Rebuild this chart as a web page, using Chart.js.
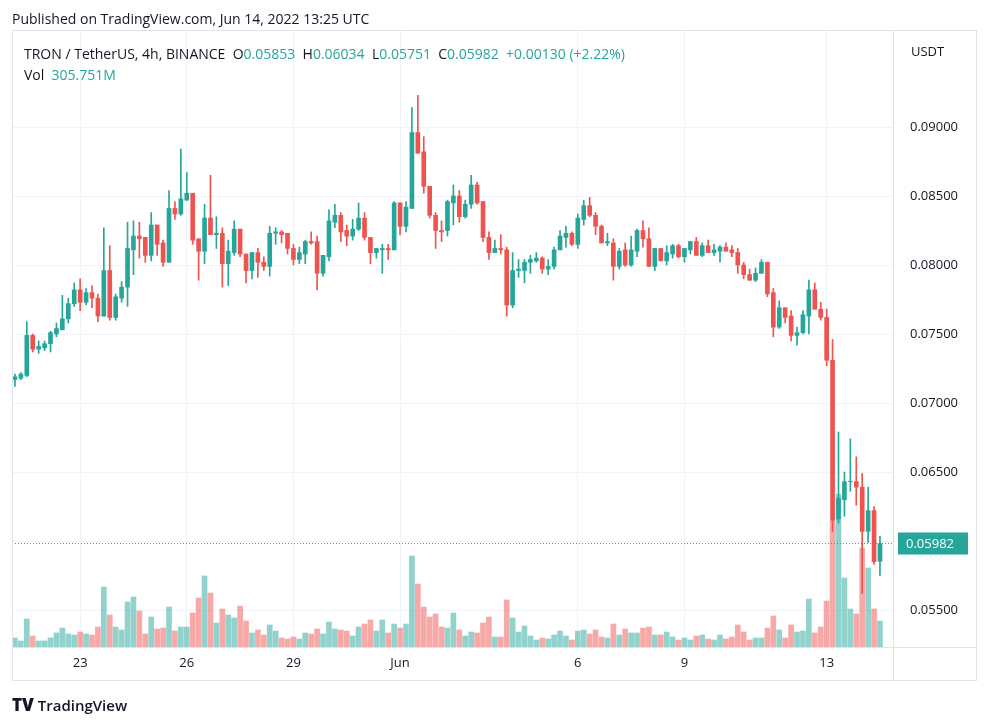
<!DOCTYPE html>
<html><head><meta charset="utf-8">
<script src="https://cdn.jsdelivr.net/npm/chart.js@4/dist/chart.umd.min.js"></script>
<style>
body{margin:0;width:991px;height:725px;background:#fff;font-family:"Open Sans","Liberation Sans",sans-serif;color:#131722;position:relative;overflow:hidden}
#c{position:absolute;left:0;top:0}
.t{position:absolute;white-space:pre;font-size:14px}
</style></head><body>
<canvas id="c" width="991" height="725"></canvas>
<div class="t" style="left:12px;top:9px">Published on TradingView.com, Jun 14, 2022 13:25 UTC</div>
<div class="t" style="left:24px;top:44px">TRON / TetherUS, 4h, BINANCE  O<span style="color:#26a69a">0.05853</span>  H<span style="color:#26a69a">0.06034</span>  L<span style="color:#26a69a">0.05751</span>  C<span style="color:#26a69a">0.05982</span>  <span style="color:#26a69a">+0.00130 (+2.22%)</span></div>
<div class="t" style="left:24px;top:65px">Vol  <span style="color:#26a69a">305.751M</span></div>
<div class="t" style="left:911px;top:42px;font-size:13px">USDT</div>
<div class="t" style="left:12px;top:693px;font-size:15px;font-weight:600"><span style="font-weight:900;font-size:17px">TV</span> TradingView</div>
<script>
const open=[.0717,.0718,.0720,.0749,.0739,.0740,.0743,.0750,.0753,.0761,.0772,.0782,.0773,.0780,.0776,.0763,.0796,.0762,.0776,.0784,.0811,.0821,.0820,.0807,.0829,.0816,.0802,.0841,.0837,.0847,.0852,.0819,.0810,.0834,.0822,.0823,.0801,.0809,.0826,.0808,.0796,.0809,.0802,.0799,.0823,.0824,.0823,.0812,.0804,.0808,.0817,.0817,.0794,.0806,.0831,.0836,.0825,.0821,.0826,.0834,.0820,.0809,.0811,.0812,.0811,.0845,.0828,.0841,.0896,.0882,.0857,.0836,.0825,.0825,.0845,.0850,.0835,.0844,.0858,.0846,.0820,.0809,.0812,.0811,.0771,.0796,.0796,.0802,.0803,.0805,.0797,.0799,.0811,.0820,.0823,.0815,.0833,.0843,.0836,.0828,.0816,.0816,.0799,.0811,.0800,.0810,.0825,.0819,.0799,.0812,.0803,.0808,.0814,.0806,.0811,.0817,.0807,.0814,.0809,.0810,.0813,.0811,.0809,.0800,.0793,.0789,.0794,.0802,.0780,.0755,.0769,.0763,.0749,.0751,.0763,.0782,.0768,.0762,.0731,.0616,.0630,.0643,.0643,.0639,.0607,.0622,.05853];
const high=[.0721,.0722,.0759,.0750,.0745,.0745,.0752,.0758,.0778,.0776,.0787,.0790,.0783,.0785,.0779,.0827,.0814,.0779,.0788,.0831,.0832,.0831,.0820,.0838,.0829,.0818,.0854,.0846,.0884,.0867,.0852,.0819,.0844,.0865,.0835,.0827,.0818,.0832,.0826,.0808,.0809,.0812,.0806,.0828,.0827,.0825,.0823,.0815,.0813,.0818,.0824,.0821,.0807,.0840,.0844,.0838,.0829,.0833,.0845,.0838,.0820,.0812,.0815,.0815,.0846,.0845,.0846,.0914,.0923,.0893,.0857,.0838,.0832,.0847,.0858,.0854,.0847,.0865,.0860,.0846,.0824,.0818,.0822,.0813,.0809,.0804,.0804,.0807,.0809,.0806,.0804,.0813,.0825,.0828,.0824,.0837,.0847,.0849,.0838,.0829,.0823,.0819,.0812,.0816,.0821,.0826,.0832,.0827,.0812,.0812,.0814,.0815,.0815,.0812,.0817,.0820,.0816,.0818,.0815,.0814,.0816,.0814,.0812,.0802,.0797,.0798,.0804,.0802,.0783,.0774,.0769,.0767,.0755,.0767,.0789,.0787,.0773,.0768,.0746,.0679,.0650,.0674,.0661,.0649,.0639,.0625,.06034];
const low=[.0712,.0717,.0719,.0737,.0736,.0738,.0737,.0748,.0753,.0758,.0770,.0767,.0771,.0769,.0759,.0763,.0760,.0760,.0773,.0770,.0793,.0805,.0802,.0803,.0807,.0799,.0802,.0833,.0836,.0847,.0815,.0789,.0801,.0822,.0812,.0784,.0785,.0807,.0806,.0787,.0790,.0791,.0796,.0792,.0815,.0816,.0808,.0800,.0801,.0801,.0815,.0782,.0792,.0803,.0827,.0817,.0814,.0818,.0825,.0818,.0801,.0805,.0794,.0804,.0811,.0822,.0824,.0841,.0881,.0852,.0834,.0812,.0817,.0821,.0829,.0831,.0834,.0841,.0844,.0817,.0804,.0809,.0808,.0763,.0769,.0791,.0787,.0794,.0802,.0794,.0793,.0797,.0811,.0813,.0814,.0812,.0829,.0835,.0822,.0816,.0814,.0789,.0797,.0799,.0799,.0806,.0813,.0799,.0796,.0803,.0800,.0805,.0805,.0802,.0808,.0807,.0806,.0809,.0807,.0802,.0810,.0806,.0794,.0790,.0789,.0788,.0794,.0777,.0748,.0754,.0758,.0745,.0742,.0750,.0750,.0768,.0760,.0727,.0607,.0613,.0618,.0636,.0626,.0562,.0599,.0583,.05751];
const close=[.0719,.0721,.0749,.0739,.0741,.0743,.0751,.0754,.0761,.0772,.0782,.0773,.0780,.0776,.0763,.0796,.0762,.0777,.0784,.0812,.0821,.0819,.0807,.0829,.0815,.0802,.0841,.0837,.0848,.0852,.0818,.0810,.0834,.0822,.0823,.0801,.0810,.0826,.0808,.0796,.0809,.0802,.0799,.0823,.0824,.0822,.0812,.0804,.0809,.0817,.0816,.0794,.0807,.0832,.0836,.0824,.0821,.0826,.0834,.0820,.0809,.0812,.0812,.0811,.0845,.0828,.0842,.0896,.0881,.0857,.0836,.0825,.0824,.0846,.0850,.0835,.0844,.0858,.0845,.0820,.0809,.0812,.0811,.0771,.0796,.0797,.0802,.0804,.0805,.0797,.0799,.0811,.0821,.0823,.0815,.0834,.0843,.0836,.0828,.0816,.0817,.0799,.0810,.0800,.0811,.0825,.0819,.0799,.0812,.0803,.0809,.0814,.0806,.0812,.0817,.0807,.0814,.0809,.0811,.0813,.0810,.0809,.0800,.0793,.0789,.0794,.0802,.0779,.0755,.0769,.0762,.0749,.0751,.0764,.0782,.0768,.0762,.0731,.0615,.0631,.0643,.0643,.0639,.0607,.0622,.0585,.05982];
const volumeM=[106,71,329,129,71,71,106,165,223,153,141,176,153,141,235,706,376,235,200,529,588,423,153,353,212,223,470,188,235,235,400,576,835,635,282,447,376,341,482,306,165,200,141,259,188,106,94,118,94,165,153,212,153,294,212,200,188,129,235,270,318,188,318,165,270,223,270,1070,741,470,353,388,235,223,400,200,129,176,165,282,353,118,118,553,341,176,247,129,82,106,94,141,188,129,82,188,200,153,200,118,106,270,141,212,165,165,223,235,141,141,176,118,82,106,82,129,141,94,82,141,94,118,259,176,82,106,106,223,365,200,106,259,176,188,564,165,235,541,1482,1799,811,447,388,1164,929,447,305.751];
const tickIndex=[11,29,47,65,95,113,137];
const tickLabels=['23','26','29','Jun','6','9','13'];
const priceTicks=[0.055,0.060,0.065,0.070,0.075,0.080,0.085,0.090];
const lastPrice=0.05982;

const G='#26a69a',R='#ef5350';
const up=close.map((c,i)=>c>=open[i]);
const col=up.map(u=>u?G:R);
const vcol=up.map(u=>u?'rgba(38,166,154,0.5)':'rgba(239,83,80,0.5)');
const idx=close.map((_,i)=>i);
const wick=idx.map(i=>({x:i,y:[low[i],high[i]]}));
const body=idx.map(i=>({x:i,y:[open[i],Math.abs(close[i]-open[i])<0.00003?open[i]+0.00003:close[i]]}));
const vol=idx.map(i=>({x:i,y:volumeM[i]}));

const lastPlugin={id:'last',afterDatasetsDraw(ch){
  const ctx=ch.ctx,y=ch.scales.y.getPixelForValue(lastPrice),a=ch.chartArea;
  ctx.save();ctx.strokeStyle=G;ctx.setLineDash([1,2]);ctx.lineWidth=1;
  ctx.beginPath();ctx.moveTo(a.left,Math.round(y)+0.5);ctx.lineTo(a.right,Math.round(y)+0.5);ctx.stroke();
  ctx.setLineDash([]);ctx.fillStyle=G;ctx.fillRect(a.right+5,y-11,70,22);
  ctx.fillStyle='#fff';ctx.font='13px "Open Sans"';ctx.textBaseline='middle';ctx.fillText('0.05982',a.right+13,y+1);
  ctx.strokeStyle='#e0e3eb';ctx.lineWidth=1;ctx.strokeRect(12.5,30.5,964,650);
  ctx.beginPath();ctx.moveTo(a.right+0.5,30);ctx.lineTo(a.right+0.5,680);ctx.stroke();
  ctx.beginPath();ctx.moveTo(12,a.bottom+0.5);ctx.lineTo(977,a.bottom+0.5);ctx.stroke();
  ctx.restore();}};

new Chart(document.getElementById('c'),{
 type:'bar',
 data:{datasets:[
  {data:vol,yAxisID:'yv',backgroundColor:vcol,barThickness:5,grouped:false,order:3},
  {data:wick,yAxisID:'y',backgroundColor:col,barThickness:1,grouped:false,order:2},
  {data:body,yAxisID:'y',backgroundColor:col,barThickness:4,grouped:false,order:1}
 ]},
 options:{responsive:false,animation:false,
  layout:{padding:{left:12,top:30,right:14,bottom:45}},
  plugins:{legend:{display:false},tooltip:{enabled:false}},
  scales:{
   x:{type:'linear',min:-0.5,max:148.2,offset:false,
      afterBuildTicks(s){s.ticks=tickIndex.map(v=>({value:v}));},
      afterFit(s){s.height=33;},
      ticks:{autoSkip:false,maxRotation:0,color:'#131722',font:{size:13,family:'Open Sans'},padding:8,callback:(v)=>tickLabels[tickIndex.indexOf(v)]},
      grid:{color:'#f0f3fa',drawTicks:false,offset:false},border:{display:false}},
   y:{position:'right',min:0.05232,max:0.09703,
      afterBuildTicks(s){s.ticks=priceTicks.map(v=>({value:v}));},
      afterFit(s){s.width=84;},
      ticks:{color:'#131722',font:{size:13,family:'Open Sans'},padding:17,callback:v=>v.toFixed(5)},
      grid:{color:'#f0f3fa',drawTicks:false},border:{display:false}},
   yv:{display:false,min:0,max:7256}
  }}
 ,plugins:[lastPlugin]});
</script>
</body></html>
